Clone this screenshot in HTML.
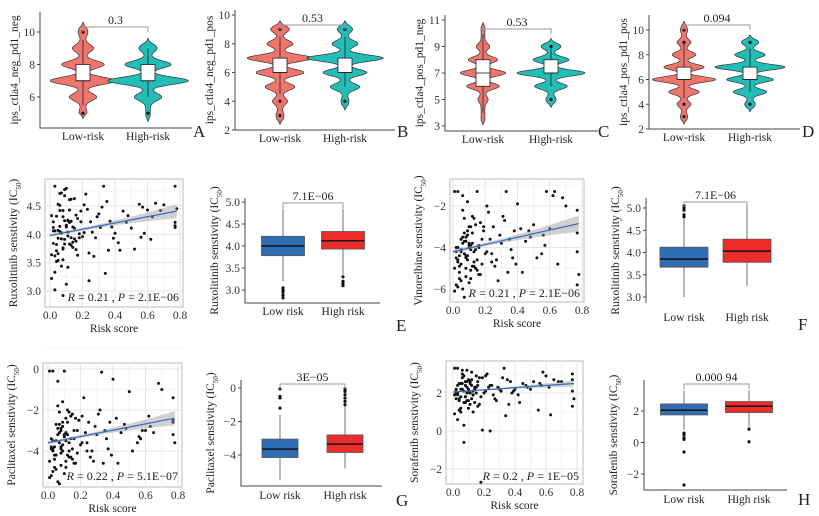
<!DOCTYPE html>
<html><head><meta charset="utf-8">
<style>
html,body{margin:0;padding:0;background:#fff;}
svg{display:block;font-family:"Liberation Serif",serif;}
</style></head>
<body>
<svg id="fig" width="819" height="516" viewBox="0 0 819 516" xmlns="http://www.w3.org/2000/svg"></svg>
<script>
// ---------- DATA ----------
const violinGroups = ["Low-risk","High-risk"];
const boxGroups = ["Low risk","High risk"];
const vA_low = [[5,0.05],[6,0.3],[7,0.8],[8,0.5],[9,0.22],[10,0.07]];
const vA_high = [[6,0.3],[7,1.0],[8,0.55],[9,0.18]];
const vB_low = [[3,0.05],[4,0.15],[5,0.35],[6,0.6],[7,0.85],[8,0.3],[9,0.2]];
const vB_high = [[4,0.05],[5,0.35],[6,0.55],[7,1.0],[8,0.3],[9,0.15]];
const vC_low = [[5,0.1],[6,0.45],[7,0.65],[8,0.4],[9,0.15]];
const vC_high = [[5,0.1],[6,0.45],[7,1.0],[8,0.5],[9,0.25]];
const vD_low = [[3,0.05],[4,0.15],[5,0.4],[6,0.9],[7,0.55],[8,0.3],[9,0.15],[10,0.05]];
const vD_high = [[4,0.1],[5,0.45],[6,0.65],[7,1.0],[8,0.4],[9,0.2]];
const vRange = {A:[[4.7,10.6],[4.5,9.6]],B:[[2.4,9.6],[3.4,9.6]],C:[[3.1,10.8],[4.4,9.6]],D:[[2.4,10.7],[3.4,9.6]]};
const vBoxA = [[7,7,8,5.5,9.5],[7,7,8,6,9]];
const vBoxB = [[6,6,7,4.5,8.5],[6,6,7,5,8.5]];
const vBoxC = [[6,7,8,4,10],[7,7,8,6,9]];
const vBoxD = [[6,6,7,4.5,9],[6,6,7,5,8.5]];
const vOutA = [[5,10],[5]];
const vOutB = [[3,4,9],[4,9]];
const vOutC = [[],[5,9]];
const vOutD = [[3,4,9,10],[4,9]];
const pValues = ["0.3","0.53","0.53","0.094","7.1E\u221206","7.1E\u221206","3E\u221205","0.000 94"];

const bE = [[3.78,4.0,4.22,3.2,4.85],[3.93,4.12,4.33,3.35,4.85]];
const bEout = [[2.82,2.88,2.95,3.0,3.05],[3.1,3.15,3.2,3.3]];
const bF = [[3.67,3.85,4.12,3.0,4.75],[3.78,4.03,4.3,3.25,5.05]];
const bFout = [[4.8,4.85,4.95,5.0,5.05],[]];
const bG = [[-4.15,-3.65,-3.05,-5.5,-1.6],[-3.85,-3.35,-2.8,-4.8,-1.1]];
const bGout = [[-1.2,-0.6,-0.5,-0.05],[-1.0,-0.8,-0.6,-0.4,-0.2,-0.05]];
const bH = [[1.75,2.05,2.45,0.8,3.3],[1.9,2.3,2.6,1.0,3.3]];
const bHout = [[0.6,0.5,0.3,0.2,-0.6,-2.7],[0.85,0.05]];

const riskScore = [0.02,0.05,0.08,0.11,0.03,0.06,0.09,0.12,0.15,0.04,0.07,0.10,0.13,0.01,0.05,0.08,0.14,0.17,0.02,0.06,
0.09,0.11,0.16,0.19,0.03,0.07,0.10,0.12,0.04,0.08,0.13,0.18,0.01,0.05,0.09,0.11,0.15,0.21,0.03,0.06,
0.08,0.12,0.14,0.02,0.07,0.10,0.16,0.20,0.04,0.06,0.09,0.13,0.05,0.11,0.17,0.23,0.03,0.08,0.10,0.15,
0.25,0.27,0.22,0.30,0.28,0.33,0.24,0.31,0.35,0.26,0.29,0.36,0.32,0.38,0.34,0.40,0.37,0.42,0.45,0.39,
0.48,0.43,0.50,0.55,0.58,0.47,0.52,0.60,0.62,0.65,0.68,0.57,0.70,0.77,0.77,0.77,0.78,0.77,0.63,0.56,
0.01,0.04,0.07,0.02,0.05,0.09,0.12,0.06,0.03,0.10,0.14,0.08,0.18,0.21,0.19,0.24,0.13,0.16,0.11,0.07];
const ruxolitinib = [4.12,3.93,4.31,4.04,3.62,4.42,3.83,4.21,4.63,3.71,4.02,4.81,3.94,3.22,4.53,3.55,4.13,4.28,3.84,4.72,
3.91,4.24,3.73,4.41,4.06,3.44,4.15,4.61,3.82,2.92,4.23,4.01,4.33,3.66,4.79,3.97,4.11,4.52,3.33,4.05,
3.74,4.43,3.86,4.22,4.03,3.12,4.34,3.96,3.52,4.14,4.68,3.81,4.07,4.25,3.63,4.44,4.85,3.76,4.16,3.92,
4.22,3.61,4.71,4.36,3.94,4.85,3.18,4.12,4.58,4.04,4.31,3.72,4.48,4.13,3.31,4.02,4.23,3.85,4.41,3.93,
4.33,3.72,4.11,4.53,4.02,4.21,3.74,4.43,3.91,4.55,4.42,4.48,4.52,4.85,4.21,4.12,4.45,4.15,4.31,3.95,
3.64,4.32,3.92,4.06,3.54,4.24,3.83,4.51,3.02,4.13,3.77,4.42,3.94,4.03,4.22,3.67,4.62,3.88,3.42,4.73];
const vinorelbine = [-4.2,-4.8,-3.5,-5.1,-4.0,-2.2,-4.6,-3.8,-1.3,-5.5,-4.3,-3.0,-4.9,-6.1,-3.6,-5.0,-4.1,-2.8,-4.5,-1.5,
-4.4,-3.9,-5.3,-3.2,-4.7,-6.4,-4.0,-2.5,-5.2,-3.7,-4.2,-4.8,-1.3,-5.6,-3.4,-4.1,-4.6,-2.0,-5.9,-3.8,
-4.5,-3.3,-5.0,-4.0,-2.6,-5.7,-3.9,-4.3,-4.9,-3.5,-1.8,-4.7,-4.2,-3.0,-5.3,-3.6,-1.3,-4.4,-3.9,-5.1,
-3.0,-4.6,-2.3,-3.8,-5.6,-1.3,-4.3,-2.5,-3.6,-4.9,-3.4,-4.1,-2.7,-3.2,-5.2,-1.9,-4.5,-3.1,-3.7,-4.8,
-3.5,-5.2,-2.9,-4.3,-1.3,-3.2,-4.5,-3.1,-1.5,-4.8,-1.6,-3.9,-2.0,-3.3,-2.2,-4.2,-5.3,-5.8,-1.3,-3.4,
-5.0,-4.4,-3.7,-5.8,-4.1,-3.2,-4.9,-6.0,-4.6,-3.8,-2.9,-5.4,-3.6,-4.2,-3.0,-4.7,-2.6,-4.0,-5.5,-3.3];
const paclitaxel = [-3.8,-4.2,-2.9,-4.5,-3.5,-1.8,-4.0,-3.2,-2.2,-4.8,-3.6,-0.1,-4.3,-5.3,-2.7,-4.1,-3.4,-2.4,-3.9,-0.6,
-3.7,-3.1,-4.6,-2.5,-4.0,-5.6,-3.3,-2.0,-4.4,-3.0,-3.6,-4.1,-0.1,-4.9,-2.8,-3.5,-3.9,-2.3,-5.0,-3.2,
-3.9,-2.6,-4.3,-3.4,-2.1,-5.1,-3.0,-3.7,-4.2,-2.9,-1.6,-4.0,-3.5,-2.4,-4.6,-3.1,-0.1,-3.8,-3.3,-4.4,
-2.6,-4.0,-1.4,-3.2,-4.5,-0.15,-3.6,-2.2,-3.0,-4.3,-2.8,-3.4,-2.0,-2.6,-4.6,-0.5,-3.9,-2.4,-3.1,-4.2,
-2.9,-4.6,-1.1,-3.6,-3.0,-2.7,-4.0,-3.0,-2.3,-3.1,-0.7,-3.4,-1.0,-2.6,-1.4,-3.2,-3.6,-2.5,-2.8,-3.3,
-4.5,-3.8,-3.1,-5.2,-3.5,-2.6,-4.2,-5.5,-3.9,-3.2,-2.3,-4.7,-3.0,-3.6,-2.5,-4.0,-2.1,-3.4,-4.8,-2.7];
const sorafenib = [2.2,1.8,2.6,1.4,2.0,3.2,1.6,2.4,2.9,1.1,2.1,2.7,1.9,0.9,2.5,1.5,2.3,2.8,1.7,3.0,
2.0,2.5,1.3,2.8,1.9,0.3,2.2,3.1,1.6,2.4,2.1,1.8,3.3,1.0,2.6,2.0,2.3,2.9,0.6,2.2,
1.8,2.7,1.5,2.1,2.9,1.2,2.4,2.0,1.7,2.5,3.2,1.9,2.2,2.6,1.4,2.3,3.3,1.8,2.1,2.0,
2.4,1.7,3.0,2.2,1.6,3.3,0.0,2.1,2.7,1.9,2.3,1.4,2.8,2.0,0.8,2.2,2.6,1.9,2.5,2.1,
2.3,1.5,2.2,1.1,3.1,2.4,2.6,2.9,2.3,2.7,2.6,2.4,2.6,3.0,2.7,2.1,1.7,1.3,0.85,2.5,
1.9,2.5,-0.6,2.0,1.2,2.3,1.7,2.8,2.4,1.6,2.2,1.8,-2.7,2.1,0.05,2.4,1.0,2.6,2.0,1.5];
const fitRux = [3.98,4.41];
const fitVin = [-4.2,-2.85];
const fitPac = [-3.6,-2.4];
const fitSor = [2.05,2.5];
const xTicks = [0,0.2,0.4,0.6,0.8];
const xTickLabels = ["0.0","0.2","0.4","0.6","0.8"];

// ---------- HELPERS ----------
const NS='http://www.w3.org/2000/svg';
const svg=document.getElementById('fig');
function mk(tag,attrs,parent){const e=document.createElementNS(NS,tag);for(const k in attrs)e.setAttribute(k,attrs[k]);(parent||svg).appendChild(e);return e;}
function txt(x,y,s,attrs,parent){const t=mk('text',Object.assign({x:x,y:y},attrs),parent);t.textContent=s;return t;}
function lin(v0,p0,v1,p1){const k=(p1-p0)/(v1-v0);return v=>p0+(v-v0)*k;}
function grp(name){const g=mk('g',{});


return g;}
function ylabel(g,x,yc,main,sub){
  const t=mk('text',{x:0,y:0,transform:`translate(${x},${yc}) rotate(-90)`,'text-anchor':'middle','font-size':'11.5',fill:'#222'},g);
  
  
  const a=mk('tspan',{},t);a.textContent=main;
  if(sub){const s=mk('tspan',{'font-size':'7','baseline-shift':'sub'},t);s.textContent=sub;const c=mk('tspan',{},t);c.textContent=')';}
}
function letter(x,y,s){const t=txt(x,y,s,{'font-size':'17',fill:'#222'});

}
function bracket(g,x1,x2,y,label){
  const p=mk('path',{d:`M${x1},${y+5}V${y}H${x2}V${y+5}`,fill:'none',stroke:'#999','stroke-width':'1'},g);
  
  
  const t=txt((x1+x2)/2,y-3,label,{'text-anchor':'middle','font-size':'12',fill:'#222'},g);
  
  
}

// ---------- VIOLIN PANELS ----------
function violinPanel(c){
  const g=grp('violin-panel-'+c.id);
  const y=lin(c.v0,c.p0,c.v1,c.p1);
  const ax=mk('path',{d:`M${c.ax},${c.top}V${c.bottom}H${c.right}`,fill:'none',stroke:'#444','stroke-width':'1'},g);
  
  
  c.ticks.forEach(v=>{
    mk('line',{x1:c.ax-3,x2:c.ax,y1:y(v),y2:y(v),stroke:'#444'},g);
    const t=txt(c.ax-5,y(v)+4,String(v),{'text-anchor':'end','font-size':'11.5',fill:'#333'},g);
    
    
  });
  const colors=['#F0766D','#22BDB6'];
  const sg=0.22;
  c.centers.forEach((cx,i)=>{
    const w=c.dens[i], r=c.range[i];
    let left=[],right=[];
    for(let v=r[0];v<=r[1]+1e-9;v+=0.02){
      let f=0.06;w.forEach(([k,wt])=>{f+=wt*Math.exp(-((v-k)**2)/(2*sg*sg));});
      const tp=Math.min(1,(v-r[0])/0.35,(r[1]-v)/0.35);
      const hw=c.scale*f*Math.max(0.12,tp);
      left.push([cx-hw,y(v)]);right.push([cx+hw,y(v)]);
    }
    const pts=left.concat(right.reverse());
    const vp=mk('path',{d:'M'+pts.map(p=>p[0].toFixed(1)+','+p[1].toFixed(1)).join('L')+'Z',fill:colors[i],stroke:'#333','stroke-width':'0.7'},g);
    
    
    const b=c.box[i];
    const wl=mk('line',{x1:cx,x2:cx,y1:y(b[3]),y2:y(b[4]),stroke:'#222','stroke-width':'0.8'},g);
    
    
    const bx=mk('rect',{x:cx-7,y:y(b[2]),width:14,height:y(b[0])-y(b[2]),fill:'#fff',stroke:'#222','stroke-width':'0.8'},g);
    
    
    mk('line',{x1:cx-7,x2:cx+7,y1:y(b[1]),y2:y(b[1]),stroke:'#222','stroke-width':'0.8'},g);
    c.out[i].forEach(o=>{const d=mk('circle',{cx:cx,cy:y(o),r:1.6,fill:'#111'},g);
      
      });
    const xl=txt(cx,c.bottom+12,violinGroups[i],{'text-anchor':'middle','font-size':'11.5',fill:'#222'},g);
    
    
  });
  bracket(g,c.centers[0],c.centers[1],c.by,c.p);
  ylabel(g,c.ax-22,(c.top+c.bottom)/2,c.ylab);
}
violinPanel({id:'a',ax:40,top:12,bottom:128,right:192,v0:6,p0:97,v1:10,p1:32,ticks:[6,8,10],centers:[83,148],dens:[vA_low,vA_high],range:vRange.A,box:vBoxA,out:vOutA,scale:38,by:27,p:pValues[0],ylab:'ips_ctla4_neg_pd1_neg'});
violinPanel({id:'b',ax:235,top:10,bottom:130,right:395,v0:2,p0:130,v1:10,p1:15,ticks:[2,4,6,8,10],centers:[280,345],dens:[vB_low,vB_high],range:vRange.B,box:vBoxB,out:vOutB,scale:36,by:25,p:pValues[1],ylab:'ips_ctla4_neg_pd1_pos'});
violinPanel({id:'c',ax:445,top:15,bottom:131,right:598,v0:3,p0:126,v1:11,p1:20,ticks:[3,5,7,9,11],centers:[483,551],dens:[vC_low,vC_high],range:vRange.C,box:vBoxC,out:vOutC,scale:32,by:29,p:pValues[2],ylab:'ips_ctla4_pos_pd1_neg'});
violinPanel({id:'d',ax:649,top:15,bottom:129,right:800,v0:2,p0:129,v1:10,p1:30,ticks:[2,4,6,8,10],centers:[684,750],dens:[vD_low,vD_high],range:vRange.D,box:vBoxD,out:vOutD,scale:33,by:25,p:pValues[3],ylab:'ips_ctla4_pos_pd1_pos'});
letter(193,137,'A');letter(397,137,'B');letter(598,137,'C');letter(802,137,'D');

// ---------- SCATTER PANELS ----------
function scatterPanel(c){
  const g=grp('scatter-panel-'+c.id);
  const x=lin(0,c.x0,0.8,c.x8), y=lin(c.v0,c.p0,c.v1,c.p1);
  const fr=mk('rect',{x:c.L,y:c.T,width:c.R-c.L,height:c.B-c.T,fill:'#fff',stroke:'#bbb','stroke-width':'1'},g);
  
  
  for(let v=0.1;v<0.85;v+=0.2)mk('line',{x1:x(v),x2:x(v),y1:c.T,y2:c.B,stroke:'#f2f2f2'},g);
  const step=c.ticks[1]-c.ticks[0];
  c.ticks.forEach(v=>{mk('line',{x1:c.L,x2:c.R,y1:y(v),y2:y(v),stroke:'#e6e6e6'},g);
    mk('line',{x1:c.L,x2:c.R,y1:y(v+step/2),y2:y(v+step/2),stroke:'#f4f4f4'},g);
    const t=txt(c.L-4,y(v)+4,c.tl(v),{'text-anchor':'end','font-size':'11.5',fill:'#333'},g);
    
    });
  xTicks.forEach((v,i)=>{mk('line',{x1:x(v),x2:x(v),y1:c.T,y2:c.B,stroke:'#e6e6e6'},g);
    const t=txt(x(v),c.B+12,xTickLabels[i],{'text-anchor':'middle','font-size':'11.5',fill:'#333'},g);
    
    });
  const xt=txt((c.L+c.R)/2,c.B+25,'Risk score',{'text-anchor':'middle','font-size':'11.5',fill:'#222'},g);
  
  
  c.ys.forEach((v,i)=>{const p=mk('circle',{cx:x(riskScore[i]).toFixed(1),cy:y(v).toFixed(1),r:1.5,fill:'#111'},g);
    
    });
  const xs=[0,0.1,0.2,0.3,0.4,0.5,0.6,0.7,0.78];
  const ly=v=>c.fit[0]+(c.fit[1]-c.fit[0])*v/0.78;
  const hw=v=>c.ci*(0.5+ 4.5*(v-0.12)*(v-0.12));
  const up=xs.map(v=>x(v)+','+y(ly(v)+hw(v))), dn=xs.slice().reverse().map(v=>x(v)+','+y(ly(v)-hw(v)));
  const band=mk('path',{d:'M'+up.join('L')+'L'+dn.join('L')+'Z',fill:'#999','fill-opacity':'0.45'},g);
  
  
  const ln=mk('line',{x1:x(0),y1:y(c.fit[0]),x2:x(0.78),y2:y(c.fit[1]),stroke:'#3B6BC0','stroke-width':'1.2'},g);
  
  
  const st=mk('text',{x:c.R-4,y:c.statY,'text-anchor':'end','font-size':'12',fill:'#222'},g);
  
  
  st.innerHTML='<tspan font-style="italic">R</tspan> = '+c.r+' , <tspan font-style="italic">P</tspan> = '+c.pv;
  ylabel(g,c.L-28,(c.T+c.B)/2,c.ylab,'50');
}
const dec1=v=>v.toFixed(1), int0=v=>(v<0?'\u2212':'')+Math.abs(v);
scatterPanel({id:'ruxolitinib',L:45,R:183,T:179,B:307,x0:50,x8:180,v0:3,p0:291,v1:4.5,p1:206,ticks:[3.0,3.5,4.0,4.5],tl:dec1,ys:ruxolitinib,fit:fitRux,ci:0.05,r:'0.21',pv:'2.1E\u221206',statY:301,ylab:'Ruxolitinib senstivity (IC'});
scatterPanel({id:'vinorelbine',L:450,R:584,T:179,B:302,x0:453,x8:582,v0:-6,p0:289,v1:-2,p1:206,ticks:[-6,-4,-2],tl:int0,ys:vinorelbine,fit:fitVin,ci:0.16,r:'0.21',pv:'2.1E\u221206',statY:297,ylab:'Vinorelbine senstivity (IC'});
scatterPanel({id:'paclitaxel',L:43,R:182,T:363,B:487,x0:48,x8:178,v0:-4,p0:451,v1:0,p1:369,ticks:[-4,-2,0],tl:int0,ys:paclitaxel,fit:fitPac,ci:0.14,r:'0.22',pv:'5.1E\u221207',statY:480,ylab:'Paclitaxel senstivity (IC'});
scatterPanel({id:'sorafenib',L:446,R:583,T:361,B:484,x0:453,x8:577,v0:-2,p0:469,v1:2,p1:393,ticks:[-2,0,2],tl:int0,ys:sorafenib,fit:fitSor,ci:0.07,r:'0.2',pv:'1E\u221205',statY:480,ylab:'Sorafenib senstivity (IC'});

// ---------- BOX PANELS ----------
function boxPanel(c){
  const g=grp('box-panel-'+c.id);
  const y=lin(c.v0,c.p0,c.v1,c.p1);
  const d=c.noBottom?`M${c.ax},${c.top}V${c.bottom}`:`M${c.ax},${c.top}V${c.bottom}H${c.right}`;
  const ax=mk('path',{d:d,fill:'none',stroke:'#444','stroke-width':'1'},g);
  
  
  c.ticks.forEach(v=>{mk('line',{x1:c.ax-3,x2:c.ax,y1:y(v),y2:y(v),stroke:'#444'},g);
    const t=txt(c.ax-5,y(v)+4,c.tl(v),{'text-anchor':'end','font-size':'11.5',fill:'#333'},g);
    
    });
  const fills=['#2F6DB5','#EC2B2B'];
  c.centers.forEach((cx,i)=>{
    const b=c.stats[i], hw=c.bw/2;
    const wk=mk('line',{x1:cx,x2:cx,y1:y(b[3]),y2:y(b[4]),stroke:'#888','stroke-width':'1.2'},g);
    
    
    const r=mk('rect',{x:cx-hw,y:y(b[2]),width:c.bw,height:y(b[0])-y(b[2]),fill:fills[i],stroke:'#555','stroke-width':'0.8'},g);
    
    
    const m=mk('line',{x1:cx-hw,x2:cx+hw,y1:y(b[1]),y2:y(b[1]),stroke:'#111','stroke-width':'1.5'},g);
    
    
    c.out[i].forEach(o=>{const p=mk('circle',{cx:cx,cy:y(o),r:1.6,fill:'#111'},g);
      
      });
    const xl=txt(cx,c.labY,boxGroups[i],{'text-anchor':'middle','font-size':'11.5',fill:'#222'},g);
    
    
  });
  bracket(g,c.centers[0],c.centers[1],c.by,c.p);
  ylabel(g,c.ax-27,(c.top+c.bottom)/2,c.ylab,'50');
}
boxPanel({id:'e',ax:245,top:198,bottom:303,right:380,v0:3,p0:290,v1:5,p1:202,ticks:[3,3.5,4,4.5,5],tl:dec1,centers:[283,343],bw:43,stats:bE,out:bEout,labY:315,by:203,p:pValues[4],ylab:'Ruxolitinib senstivity (IC'});
boxPanel({id:'f',ax:646,top:198,bottom:303,right:780,noBottom:true,v0:3,p0:297,v1:5,p1:208,ticks:[3,3.5,4,4.5,5],tl:dec1,centers:[684,747],bw:48,stats:bF,out:bFout,labY:321,by:202,p:pValues[5],ylab:'Ruxolitinib senstivity (IC'});
boxPanel({id:'g',ax:241,top:380,bottom:486,right:382,v0:-4,p0:455,v1:0,p1:388,ticks:[-4,-2,0],tl:int0,centers:[280,345],bw:36,stats:bG,out:bGout,labY:499,by:384,p:pValues[6],ylab:'Paclitaxel senstivity (IC'});
boxPanel({id:'h',ax:644,top:380,bottom:490,right:787,v0:-2,p0:474,v1:2,p1:411,ticks:[-2,0,2],tl:int0,centers:[684,749],bw:47,stats:bH,out:bHout,labY:503,by:384,p:pValues[7],ylab:'Sorafenib senstivity (IC'});
letter(396,331,'E');letter(798,330,'F');letter(396,506,'G');letter(798,505,'H');
</script>
</body></html>
